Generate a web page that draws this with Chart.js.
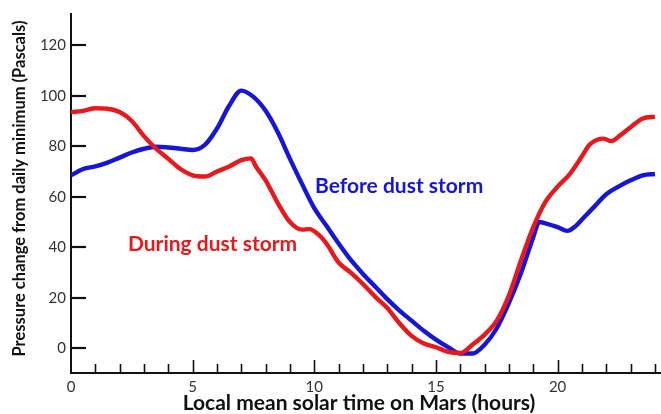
<!DOCTYPE html>
<html><head><meta charset="utf-8">
<script src="https://cdn.jsdelivr.net/npm/chart.js@4"></script>
<style>html,body{margin:0;padding:0;background:#fff;}canvas{display:block;}</style>
</head><body>
<canvas id="c" width="661" height="414"></canvas>
<script>
// ---- data (hours, Pascals) ----
const beforeHours  = [0,0.5,1,1.5,2,2.5,3,3.5,4,4.5,5,5.5,6,6.5,7,7.5,8,8.5,9,9.5,10,10.5,11,11.5,12,12.5,13,13.5,14,14.5,15,15.5,16,16.5,17,17.5,18,18.5,19,19.25,19.5,20,20.4,20.75,21,21.5,22,22.5,23,23.5,24];
const beforeValues = [68.5,71,72,73.5,75.5,77.5,79,79.8,79.5,79,78.5,80.5,87,96,102,99.5,94,85.5,75,65,55.5,48.5,41.5,35,29.5,24.5,19.5,15,11,7,3.5,0.5,-2,-2,1.5,8,18,30,44,50,49.5,48,46.5,48.5,51,56,61,64,66.5,68.5,69];
const duringHours  = [0,0.5,1,1.5,2,2.5,3,3.5,4,4.5,5,5.5,6,6.5,7,7.4,7.6,8,8.5,9,9.5,9.8,10.2,10.5,11,11.5,12,12.5,13,13.5,14,14.5,15,15.5,16,16.5,17,17.5,18,18.5,19,19.5,20,20.5,21,21.3,21.6,21.9,22.2,22.6,23,23.5,24];
const duringValues = [93.5,94,95,94.8,93.5,90,84,79,75,71,68.5,68,70,72,74.5,75.2,72,66.5,57.5,50,47,47.2,44.8,41.5,34,30,25.5,20.5,16,10,5,2,0.5,-1.3,-1.8,1.5,5.5,11,21,35,48,58,64,69,76,80.5,82.5,83,82,84.5,87.5,91,91.7];
const yTickValues = [0,20,40,60,80,100,120];
const xTickValues = [0,5,10,15,20];
const xMinorHours = [1,2,3,4,5,6,7,8,9,10,11,12,13,14,15,16,17,18,19,20,21,22,23,24];
const seriesNames = ['During dust storm','Before dust storm'];
const labelAnchors = [[2.34,41.3],[10.03,64.1]]; // [hour, Pa] where each series label starts
const xTitle = 'Local mean solar time on Mars (hours)';
const yTitle = 'Pressure change from daily minimum (Pascals)';

const RED = '#e8191c', BLUE = '#1616d8';
const toPts = (xs, ys) => xs.map((x,i)=>({x, y: ys[i]}));

const insideTicks = {
  id: 'insideTicks',
  afterDraw(chart) {
    const {ctx, scales:{x, y}} = chart;
    ctx.save();
    ctx.strokeStyle = '#111';
    ctx.lineWidth = 2.2;
    yTickValues.forEach(v => {
      const py = Math.round(y.getPixelForValue(v));
      ctx.beginPath(); ctx.moveTo(x.left, py); ctx.lineTo(x.left + 15, py); ctx.stroke();
    });
    ctx.lineWidth = 1.6;
    xMinorHours.forEach(h => {
      const px = Math.round(x.getPixelForValue(h)) + 0.5;
      const len = (h % 5 === 0) ? 13 : 9;
      ctx.beginPath(); ctx.moveTo(px, y.bottom); ctx.lineTo(px, y.bottom - len); ctx.stroke();
    });
    ctx.restore();
  }
};

const textLabels = {
  id: 'textLabels',
  afterDatasetsDraw(chart) {
    const {ctx, scales:{x, y}, chartArea} = chart;
    ctx.save();
    ctx.font = 'bold 21px Lato';
    ctx.textBaseline = 'middle';
    ctx.textAlign = 'left';
    [RED, BLUE].forEach((c, i) => {
      ctx.fillStyle = c;
      ctx.fillText(seriesNames[i], x.getPixelForValue(labelAnchors[i][0]), y.getPixelForValue(labelAnchors[i][1]));
    });
    // x-axis title
    ctx.fillStyle = '#111';
    ctx.font = 'bold 21px Lato';
    ctx.textAlign = 'center';
    ctx.fillText(xTitle, (chartArea.left + chartArea.right)/2 - 7, 403);
    // y-axis title
    ctx.translate(20, (chartArea.top + chartArea.bottom)/2 - 5);
    ctx.rotate(-Math.PI/2);
    ctx.font = 'bold 16.5px Lato';
    ctx.fillText(yTitle, 0, 0);
    ctx.restore();
  }
};

new Chart(document.getElementById('c'), {
  type: 'line',
  data: {
    datasets: [
      { label: seriesNames[0], data: toPts(duringHours, duringValues), borderColor: RED, order: 0 },
      { label: seriesNames[1], data: toPts(beforeHours, beforeValues), borderColor: BLUE, order: 1 }
    ]
  },
  options: {
    responsive: false,
    animation: false,
    devicePixelRatio: 1,
    layout: { padding: { top: 12, right: 0, left: 0, bottom: 0 } },
    elements: {
      line: { borderWidth: 4.4, tension: 0.4, cubicInterpolationMode: 'monotone', capBezierPoints: true },
      point: { radius: 0 }
    },
    plugins: { legend: { display: false }, tooltip: { enabled: false } },
    scales: {
      x: {
        type: 'linear', min: 0, max: 24.25,
        grid: { display: false, drawTicks: false },
        border: { display: true, color: '#111', width: 2 },
        afterBuildTicks: s => { s.ticks = xTickValues.map(v => ({value: v})); },
        afterFit: s => { s.height = 41; },
        ticks: { padding: 5, color: '#333', font: { family: 'Lato', size: 15 }, maxRotation: 0, autoSkip: false }
      },
      y: {
        type: 'linear', min: -9.7, max: 132.3,
        grid: { display: false, drawTicks: false },
        border: { display: true, color: '#111', width: 2 },
        afterBuildTicks: s => { s.ticks = yTickValues.map(v => ({value: v})); },
        afterFit: s => { s.width = 71; },
        ticks: { padding: 5, color: '#333', font: { family: 'Lato', size: 15 } }
      }
    }
  },
  plugins: [insideTicks, textLabels]
});
</script>
</body></html>
